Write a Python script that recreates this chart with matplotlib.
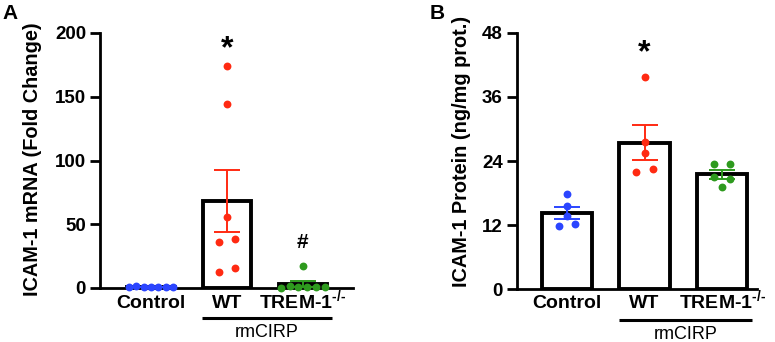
import numpy as np
import matplotlib
matplotlib.use('Agg')
import matplotlib.pyplot as plt
import matplotlib.transforms as mtransforms

plt.rcParams['font.family'] = ['Liberation Sans', 'DejaVu Sans']
plt.rcParams['mathtext.fontset'] = 'custom'
plt.rcParams['mathtext.rm'] = 'Liberation Sans:bold'
plt.rcParams['mathtext.default'] = 'regular'

# ---- data ----
groups = ['Control', 'WT', r'TREM-1$^{\text{-/-}}$']
colors = ['#2b45ff', '#ff2a12', '#2e9a1e']

mrna_control = [0.6, 1.9, 1.0, 0.9, 0.8, 0.5, 0.4]
mrna_wt = [174.5, 144, 56, 36, 38.5, 12.5, 15.5]
mrna_trem = [17, 0.3, 1.8, 0.6, 0.8, 0.5, 0.4]

prot_control = [17.8, 15.6, 13.7, 11.8, 12.3]
prot_wt = [39.8, 27.5, 25.5, 22.0, 22.5]
prot_trem = [23.5, 23.4, 21.0, 20.6, 19.1]

mrna_ticks = [0, 50, 100, 150, 200]
prot_ticks = [0, 12, 24, 36, 48]


def row_offsets(ax, vals, row_px=7.0, max_step=0.21, width=0.58):
    # group points of similar height into rows and spread each row sideways
    vals = np.asarray(vals, float)
    py = ax.transData.transform(np.c_[np.zeros_like(vals), vals])[:, 1]
    order = np.argsort(vals)
    rows = []
    for i in order:
        if rows and abs(py[i] - py[rows[-1][0]]) < row_px:
            rows[-1].append(i)
        else:
            rows.append([i])
    off = np.zeros(len(vals))
    for r in rows:
        r = sorted(r)
        n = len(r)
        if n > 1:
            step = min(max_step, width / (n - 1))
            for k, i in enumerate(r):
                off[i] = (k - (n - 1) / 2) * step
    return off


def panel(ax, data, ticks, ylabel, barw, xlim, label_x, label_y, base_y):
    ax.set_xlim(*xlim)
    ax.set_ylim(ticks[0], ticks[-1])
    pos = np.arange(len(data))
    for p, vals, c in zip(pos, data, colors):
        vals = np.asarray(vals, float)
        m = vals.mean()
        sem = vals.std(ddof=1) / np.sqrt(len(vals))
        ax.bar(p, m, width=barw, color='white', edgecolor='black', linewidth=2.8, zorder=2)
        ax.errorbar(p, m, yerr=sem, color=c, lw=1.4, capsize=9.5, capthick=1.4, zorder=3)
        off = row_offsets(ax, vals)
        ax.scatter(p + off, vals, s=32, color=c, zorder=4, clip_on=False, linewidths=0)
    for s in ['top', 'right']:
        ax.spines[s].set_visible(False)
    for s in ['left', 'bottom']:
        ax.spines[s].set_linewidth(2.0)
    ax.set_yticks(ticks)
    ax.set_yticklabels([str(t) for t in ticks], fontsize=13.5, fontweight='bold')
    ax.tick_params(axis='y', length=7, width=2.0, pad=3)
    ax.set_xticks([])
    tr = mtransforms.blended_transform_factory(ax.transData, ax.transAxes)
    for p, g in zip(pos, groups):
        ax.text(p, base_y, g, fontsize=14, fontweight='bold', ha='center',
                va='baseline', transform=tr)
    ax.set_ylabel(ylabel, fontsize=14.3, fontweight='bold')
    ax.yaxis.set_label_coords(label_x, label_y)
    # rmCIRP bracket under WT and TREM
    ax.plot([1 - 0.33, 2 + 0.38], [-0.118, -0.118], color='black', lw=2.2,
            transform=tr, clip_on=False, solid_capstyle='butt')
    ax.text(1.5 + 0.025, -0.142, 'rmCIRP', fontsize=13, ha='center', va='top', transform=tr)


fig = plt.figure(figsize=(7.75, 3.42), dpi=100)
axA = fig.add_axes([100 / 775, 1 - 288 / 342, 253 / 775, 255 / 342])
axB = fig.add_axes([516.7 / 775, 1 - 289.3 / 342, 240.3 / 775, 256.6 / 342])

panel(axA, [mrna_control, mrna_wt, mrna_trem], mrna_ticks,
      'ICAM-1 mRNA (Fold Change)', 0.63, (-0.67, 2.66), -0.229, 0.506, -0.078)
panel(axB, [prot_control, prot_wt, prot_trem], prot_ticks,
      'ICAM-1 Protein (ng/mg prot.)', 0.65, (-0.65, 2.45), -0.19, 0.537, -0.073)

# significance marks
axA.text(1, 181, '*', fontsize=23, fontweight='bold', ha='center', va='baseline')
axA.text(2, 31, '#', fontsize=15, fontweight='bold', ha='center', va='baseline')
axB.text(1, 42.6, '*', fontsize=23, fontweight='bold', ha='center', va='baseline')

fig.text(2 / 775, 1 - 19 / 342, 'A', fontsize=15, fontweight='bold', va='baseline')
fig.text(430 / 775, 1 - 19 / 342, 'B', fontsize=15, fontweight='bold', va='baseline')

fig.savefig('out.png', dpi=100)
